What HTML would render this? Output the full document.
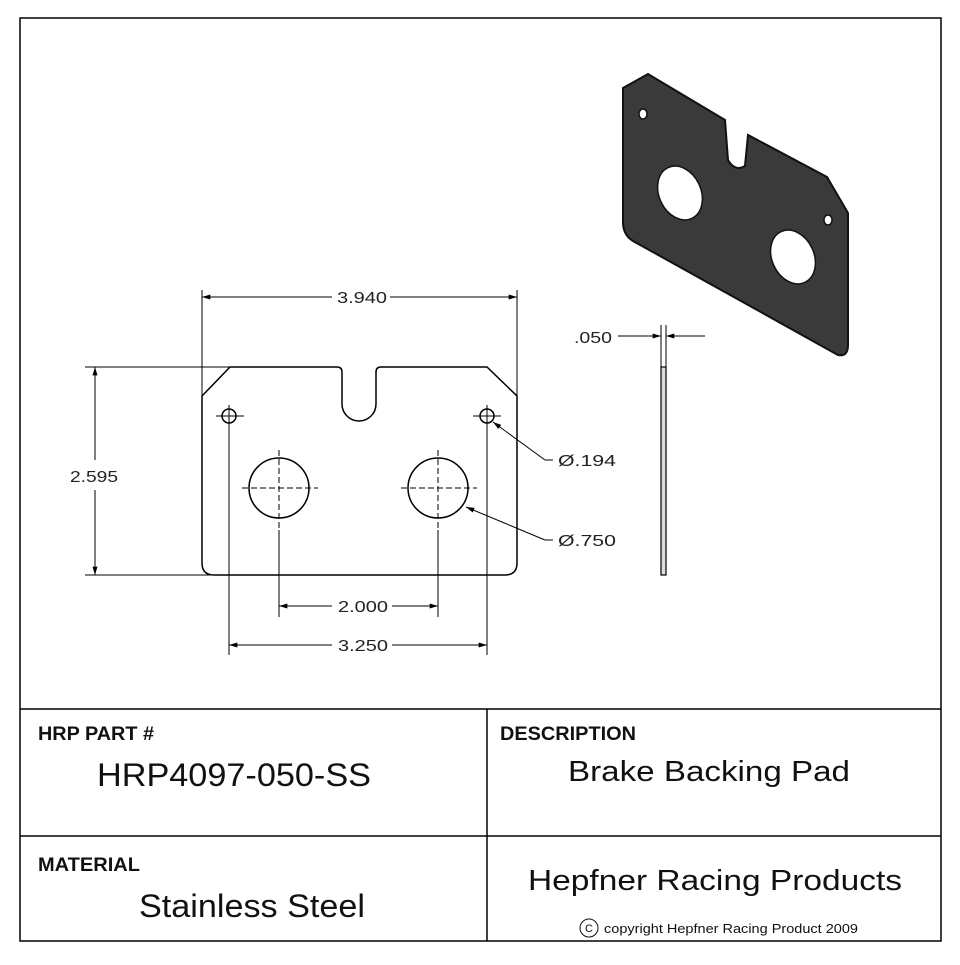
<!DOCTYPE html>
<html><head><style>
body{margin:0;background:#fff}
svg text{font-family:"Liberation Sans",sans-serif}
</style></head><body>
<svg width="960" height="960" viewBox="0 0 960 960" xmlns="http://www.w3.org/2000/svg">
<defs>
<marker id="a" viewBox="0 0 10 6" refX="10" refY="3" markerWidth="12" markerHeight="5" orient="auto-start-reverse" markerUnits="userSpaceOnUse"><path d="M0,0 L10,3 L0,6 Z" fill="#000"/></marker>
</defs>
<rect x="20" y="18" width="921" height="923" fill="none" stroke="#000" stroke-width="1.5"/>
<line x1="20" y1="709" x2="941" y2="709" stroke="#000" stroke-width="1.5"/>
<line x1="20" y1="836" x2="941" y2="836" stroke="#000" stroke-width="1.5"/>
<line x1="487" y1="709" x2="487" y2="941" stroke="#000" stroke-width="1.5"/>

<g fill="none" stroke="#000" stroke-width="1.5">
<path d="M230,367 L337,367 Q342,367 342,372 L342,404 A17,17 0 0 0 376,404 L376,372 Q376,367 381,367 L487,367 L517,396 L517,563 Q517,575 505,575 L214,575 Q202,575 202,563 L202,396 Z"/>
<circle cx="229" cy="416" r="7"/><circle cx="487" cy="416" r="7"/>
<circle cx="279" cy="488" r="30"/><circle cx="438" cy="488" r="30"/>
</g>
<g stroke="#000" stroke-width="1">
<line x1="216" y1="416" x2="244" y2="416"/><line x1="473" y1="416" x2="501" y2="416"/>
<line x1="229" y1="405" x2="229" y2="655"/><line x1="487" y1="405" x2="487" y2="655"/>
<line x1="279" y1="530" x2="279" y2="617"/><line x1="438" y1="530" x2="438" y2="617"/>
<line x1="202" y1="290" x2="202" y2="396"/><line x1="517" y1="290" x2="517" y2="396"/>
<line x1="85" y1="367" x2="230" y2="367"/><line x1="85" y1="575" x2="214" y2="575"/>
</g>
<g stroke="#000" stroke-width="1" stroke-dasharray="6,3">
<line x1="242" y1="488" x2="318" y2="488"/><line x1="279" y1="450" x2="279" y2="528"/>
<line x1="401" y1="488" x2="477" y2="488"/><line x1="438" y1="450" x2="438" y2="528"/>
</g>
<g stroke="#000" stroke-width="1">
<line x1="202" y1="297" x2="332" y2="297" marker-start="url(#a)"/>
<line x1="390" y1="297" x2="517" y2="297" marker-end="url(#a)"/>
<line x1="95" y1="367" x2="95" y2="460" marker-start="url(#a)"/>
<line x1="95" y1="490" x2="95" y2="575" marker-end="url(#a)"/>
<line x1="279" y1="606" x2="332" y2="606" marker-start="url(#a)"/>
<line x1="392" y1="606" x2="438" y2="606" marker-end="url(#a)"/>
<line x1="229" y1="645" x2="332" y2="645" marker-start="url(#a)"/>
<line x1="392" y1="645" x2="487" y2="645" marker-end="url(#a)"/>
<line x1="545" y1="460" x2="493" y2="422" marker-end="url(#a)"/>
<line x1="545" y1="460" x2="553" y2="460"/>
<line x1="545" y1="540" x2="466" y2="507" marker-end="url(#a)"/>
<line x1="545" y1="540" x2="553" y2="540"/>
</g>
<g font-size="16" fill="#222">
<text x="337" y="303" textLength="50" lengthAdjust="spacingAndGlyphs">3.940</text>
<text x="70" y="482" textLength="48" lengthAdjust="spacingAndGlyphs">2.595</text>
<text x="338" y="612" textLength="50" lengthAdjust="spacingAndGlyphs">2.000</text>
<text x="338" y="651" textLength="50" lengthAdjust="spacingAndGlyphs">3.250</text>
<text x="558" y="466" textLength="58" lengthAdjust="spacingAndGlyphs">Ø.194</text>
<text x="558" y="546" textLength="58" lengthAdjust="spacingAndGlyphs">Ø.750</text>
<text x="574" y="343" textLength="38" lengthAdjust="spacingAndGlyphs">.050</text>
</g>

<rect x="661" y="367" width="5" height="208" fill="#ddd" stroke="#000" stroke-width="1.2"/>
<g stroke="#000" stroke-width="1">
<line x1="661" y1="325" x2="661" y2="367"/><line x1="666" y1="325" x2="666" y2="367"/>
<line x1="618" y1="336" x2="661" y2="336" marker-end="url(#a)"/>
<line x1="705" y1="336" x2="666" y2="336" marker-end="url(#a)"/>
</g>

<path d="M623,88 L648,74 L725,120 L728,160 Q735,172 745,166 L748,135 L827,177 L848,213 L848,345 Q848,357 838,355 L633,241 Q623,235 623,222 Z" fill="#3a3a3a" stroke="#111" stroke-width="2"/>
<g fill="#fff" stroke="#111" stroke-width="1.5">
<ellipse cx="680" cy="193" rx="21" ry="28" transform="rotate(-25 680 193)"/>
<ellipse cx="793" cy="257" rx="21" ry="28" transform="rotate(-25 793 257)"/>
<ellipse cx="643" cy="114" rx="4" ry="5"/>
<ellipse cx="828" cy="220" rx="4" ry="5"/>
</g>

<g fill="#111">
<text x="38" y="740" font-size="19" font-weight="bold" textLength="116" lengthAdjust="spacingAndGlyphs">HRP PART #</text>
<text x="97" y="786" font-size="32" textLength="274" lengthAdjust="spacingAndGlyphs">HRP4097-050-SS</text>
<text x="500" y="740" font-size="19" font-weight="bold" textLength="136" lengthAdjust="spacingAndGlyphs">DESCRIPTION</text>
<text x="568" y="781" font-size="29" textLength="282" lengthAdjust="spacingAndGlyphs">Brake Backing Pad</text>
<text x="38" y="871" font-size="19" font-weight="bold" textLength="102" lengthAdjust="spacingAndGlyphs">MATERIAL</text>
<text x="139" y="917" font-size="32" textLength="226" lengthAdjust="spacingAndGlyphs">Stainless Steel</text>
<text x="528" y="890" font-size="29" textLength="374" lengthAdjust="spacingAndGlyphs">Hepfner Racing Products</text>
<circle cx="589" cy="928" r="9" fill="none" stroke="#111" stroke-width="1"/>
<text x="589" y="932" font-size="11" text-anchor="middle">C</text>
<text x="604" y="933" font-size="12.5" textLength="254" lengthAdjust="spacingAndGlyphs">copyright Hepfner Racing Product 2009</text>
</g>
</svg>
</body></html>
